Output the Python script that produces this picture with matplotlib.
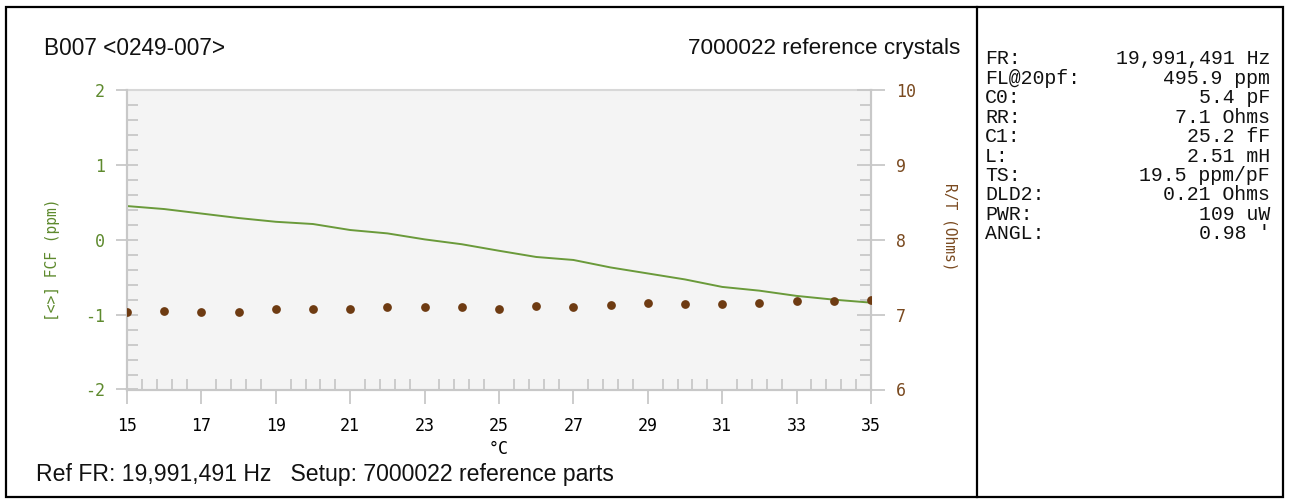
import matplotlib
matplotlib.use("Agg")
import matplotlib.pyplot as plt
from matplotlib.patches import Rectangle
from matplotlib.lines import Line2D
from matplotlib.ticker import MultipleLocator, FixedLocator
import numpy as np

plt.rcParams["axes.unicode_minus"] = False

# ---- data ----
temps = [15, 16, 17, 18, 19, 20, 21, 22, 23, 24, 25, 26, 27, 28, 29, 30, 31, 32, 33, 34, 35]
fcf_ppm = [0.45, 0.41, 0.35, 0.29, 0.24, 0.21, 0.13, 0.085, 0.005, -0.06, -0.147, -0.23,
           -0.27, -0.37, -0.45, -0.53, -0.63, -0.68, -0.75, -0.80, -0.84]
rt_ohms = [7.03, 7.05, 7.03, 7.04, 7.07, 7.07, 7.08, 7.10, 7.10, 7.10, 7.08, 7.11,
           7.10, 7.13, 7.16, 7.14, 7.14, 7.16, 7.18, 7.18, 7.19]

x_ticks = [15, 17, 19, 21, 23, 25, 27, 29, 31, 33, 35]
left_ticks = [-2, -1, 0, 1, 2]
right_ticks = [6, 7, 8, 9, 10]

title_left = "B007 <0249-007>"
title_right = "7000022 reference crystals"
footer = "Ref FR: 19,991,491 Hz   Setup: 7000022 reference parts"
left_label = "[<>] FCF (ppm)"
right_label = "R/T (Ohms)"
x_label = "\u00b0C"

panel_keys = ["FR:", "FL@20pf:", "C0:", "RR:", "C1:", "L:", "TS:", "DLD2:", "PWR:", "ANGL:"]
panel_vals = ["19,991,491 Hz", "495.9 ppm", "5.4 pF", "7.1 Ohms", "25.2 fF", "2.51 mH",
              "19.5 ppm/pF", "0.21 Ohms", "109 uW", "0.98 '"]

GREEN = "#6a9a3a"
GREEN_TXT = "#5e8a2e"
BROWN = "#6e3b12"
BROWN_TXT = "#7a4a20"
GRID = "#c8c8c8"

W, H = 1289, 503
fig = plt.figure(figsize=(W / 100, H / 100), dpi=100)
fig.patch.set_facecolor("white")


def fx(px):
    return px / W


def fy(py):
    return 1 - py / H


# outer frame and divider
fig.add_artist(Rectangle((fx(6), fy(497)), fx(1283) - fx(6), fy(7) - fy(497),
                         transform=fig.transFigure, fill=False, edgecolor="black", lw=1.6))
fig.add_artist(Line2D([fx(977), fx(977)], [fy(7), fy(497)], transform=fig.transFigure,
                      color="black", lw=1.6))

# main axes
L, R, T, B = 127, 871, 90, 389.5
ax = fig.add_axes([fx(L), fy(B), fx(R) - fx(L), fy(T) - fy(B)])
ax.set_facecolor("#f4f4f4")
ax.plot(temps, fcf_ppm, color=GREEN, lw=1.4, zorder=3)
ax.set_xlim(15, 35)
ax.set_ylim(-2, 2)

ax2 = ax.twinx()
ax2.plot(temps, rt_ohms, linestyle="none", marker="o", markersize=6.3,
         color=BROWN, markeredgewidth=0, zorder=4)
ax2.set_ylim(6, 10)

mono = "DejaVu Sans Mono"
for a in (ax, ax2):
    for s in a.spines.values():
        s.set_color(GRID)
        s.set_linewidth(1.5)
ax.spines["top"].set_color("#d8d8d8")
ax.spines["top"].set_linestyle((0, (2, 1)))
ax2.spines["top"].set_visible(False)

ax.set_xticks(x_ticks)
ax.xaxis.set_minor_locator(FixedLocator(list(np.arange(15, 35.01, 0.4))))
ax.set_yticks(left_ticks)
ax.yaxis.set_minor_locator(MultipleLocator(0.2))
ax2.set_yticks(right_ticks)
ax2.yaxis.set_minor_locator(MultipleLocator(0.2))

ax.tick_params(axis="x", which="major", direction="out", length=10, width=1.3,
               color=GRID, pad=10, labelsize=12, labelcolor="black")
ax.tick_params(axis="x", which="minor", direction="in", length=8, width=1.3, color=GRID)
ax.tick_params(axis="y", which="major", direction="inout", length=16, width=1.3,
               color=GRID, pad=8, labelsize=12, labelcolor=GREEN_TXT)
ax.tick_params(axis="y", which="minor", direction="in", length=8, width=1.3, color=GRID)
ax2.tick_params(axis="y", which="major", direction="inout", length=20, width=1.3,
                color=GRID, pad=8, labelsize=12, labelcolor=BROWN_TXT)
ax2.tick_params(axis="y", which="minor", direction="in", length=8, width=1.3, color=GRID)
for lab in ax.get_xticklabels() + ax.get_yticklabels() + ax2.get_yticklabels():
    lab.set_family(mono)

# axis labels
fig.text(fx(52), fy(260), left_label, rotation=90, ha="center", va="center",
         color=GREEN_TXT, fontsize=10.5, family=mono)
fig.text(fx(950), fy(227), right_label, rotation=270, ha="center", va="center",
         color=BROWN_TXT, fontsize=10.5, family=mono)
fig.text(fx(499), fy(449), x_label, ha="center", va="center", color="black",
         fontsize=12, family=mono)

narrow = ["Liberation Sans Narrow", "Liberation Sans", "DejaVu Sans"]
fig.text(fx(44), fy(48.5), title_left, ha="left", va="center", fontsize=16.3,
         family=narrow, color="#111111")
fig.text(fx(960), fy(48.5), title_right, ha="right", va="center", fontsize=16.2,
         family=narrow, color="#111111")
fig.text(fx(36), fy(474), footer, ha="left", va="center", fontsize=16.6,
         family=narrow, color="#111111")

# info panel
mono2 = ["Liberation Mono", "DejaVu Sans Mono"]
for i, (k, v) in enumerate(zip(panel_keys, panel_vals)):
    y = 59 + 19.4 * i
    fig.text(fx(985), fy(y), k, ha="left", va="center", fontsize=14.3, family=mono2,
             color="#111111")
    fig.text(fx(1270), fy(y), v, ha="right", va="center", fontsize=14.3, family=mono2,
             color="#111111")

fig.savefig("out.png", dpi=100)
